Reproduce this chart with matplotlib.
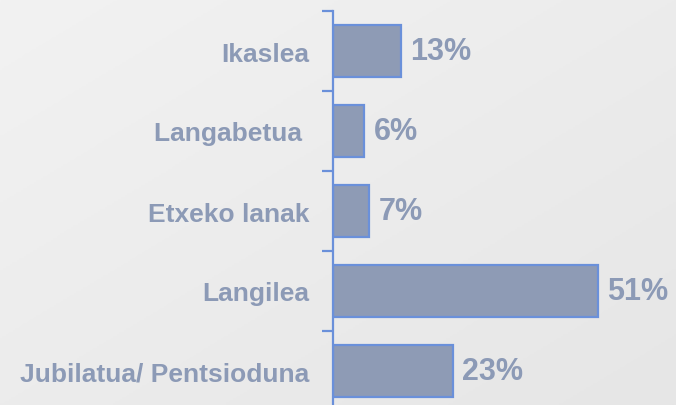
import numpy as np
import matplotlib
matplotlib.use('Agg')
import matplotlib.pyplot as plt

# data
categories = ['Ikaslea', 'Langabetua ', 'Etxeko lanak', 'Langilea', 'Jubilatua/ Pentsioduna']
values = [13, 6, 7, 51, 23]

text_color = '#8C9AB6'
bar_color = '#8E9BB5'
edge_color = '#6A90DA'

plt.rcParams['font.family'] = ['Liberation Sans', 'DejaVu Sans']

fig = plt.figure(figsize=(6.76, 4.06), dpi=100)

# soft grey background gradient
bg = fig.add_axes([0, 0, 1, 1], zorder=-10)
yy, xx = np.mgrid[0:1:200j, 0:1:300j]
grad = 0.5 * xx + 0.5 * yy
bg.imshow(grad, cmap=matplotlib.colors.LinearSegmentedColormap.from_list('bg', ['#F2F2F2', '#E6E6E6']),
          aspect='auto', extent=[0, 1, 0, 1])
bg.axis('off')

ax = fig.add_axes([333 / 676, -6 / 406, 343 / 676, 400 / 406])
ax.patch.set_alpha(0)

y = np.arange(len(categories))
ax.barh(y, values, height=0.66, color=bar_color, edgecolor=edge_color, linewidth=1.6)

ax.set_xlim(0, 66)
ax.set_ylim(len(categories) - 0.5, -0.5)

for i, v in enumerate(values):
    ax.text(v + 1.8, i, f'{v}%', va='center', ha='left', fontsize=22,
            fontweight='bold', color=text_color)

# labels at centres, tick marks between categories
ax.set_yticks(y)
ax.set_yticklabels(categories, fontsize=19, fontweight='bold', color=text_color)
ax.tick_params(axis='y', which='major', length=0, pad=17)
ax.set_yticks(np.arange(-0.5, len(categories), 1), minor=True)
ax.tick_params(axis='y', which='minor', length=8, width=1.6, color=edge_color)

ax.set_xticks([])
for s in ['top', 'right', 'bottom']:
    ax.spines[s].set_visible(False)
ax.spines['left'].set_color(edge_color)
ax.spines['left'].set_linewidth(1.6)

fig.savefig('out.png', dpi=100)
